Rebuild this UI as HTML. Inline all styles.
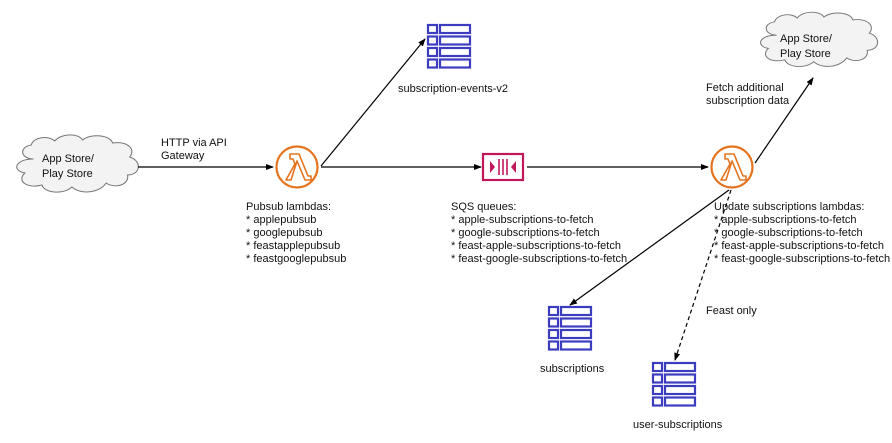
<!DOCTYPE html>
<html><head><meta charset="utf-8"><style>
html,body{margin:0;padding:0;background:#fff;}
svg{display:block;}
text{font-family:"Liberation Sans",Arial,sans-serif;font-size:11px;fill:#111;}
</style></head><body>
<svg width="892" height="443" viewBox="0 0 892 443" xmlns="http://www.w3.org/2000/svg">
<defs>
<marker id="ah" markerWidth="8" markerHeight="8" refX="7" refY="4" orient="auto" markerUnits="userSpaceOnUse">
<path d="M0,1 L8,4 L0,7 Z" fill="#000"/>
</marker>
<g id="tbl" fill="none" stroke="#3c3cc0" stroke-width="2.2">
<rect x="1" y="1" width="9" height="8"/><rect x="13" y="1" width="30" height="8"/>
<rect x="1" y="12.5" width="9" height="8"/><rect x="13" y="12.5" width="30" height="8"/>
<rect x="1" y="24" width="9" height="8"/><rect x="13" y="24" width="30" height="8"/>
<rect x="1" y="35.5" width="9" height="8"/><rect x="13" y="35.5" width="30" height="8"/>
</g>
<g id="lam">
<circle cx="0" cy="0" r="20.5" fill="none" stroke="#e5731e" stroke-width="2.2"/>
<path d="M-7,-13 L2,-13 L11,9 L14,9 L14,13 L8,13 L0,-6 L-6,13 L-11,13 L-2,-3 L-4,-8 L-7,-8 Z" fill="none" stroke="#e5731e" stroke-width="1.6" stroke-linejoin="round"/>
</g>
<path id="cloud" d="M20,18 C8,18 6,6 18,4 C20,-4 34,-6 40,0 C46,-8 62,-8 66,-1 C74,-8 92,-6 94,2 C108,0 116,8 110,16 C122,20 120,34 108,34 C110,44 96,48 88,42 C82,52 64,54 56,46 C48,54 30,52 28,44 C14,48 4,40 12,32 C0,30 2,18 20,18 Z" fill="#f3f3f3" stroke="#777" stroke-width="1"/>
</defs>

<use href="#cloud" transform="translate(12,141) scale(1.07,1)"/>
<text x="42" y="162">App Store/</text>
<text x="42" y="177">Play Store</text>

<use href="#cloud" transform="translate(756,18) scale(1.03,0.95)"/>
<text x="780" y="42">App Store/</text>
<text x="780" y="57">Play Store</text>

<line x1="138" y1="167" x2="273" y2="167" stroke="#000" stroke-width="1.2" marker-end="url(#ah)"/>
<line x1="321" y1="166" x2="425" y2="39" stroke="#000" stroke-width="1.2" marker-end="url(#ah)"/>
<line x1="321" y1="167" x2="481" y2="167" stroke="#000" stroke-width="1.2" marker-end="url(#ah)"/>
<line x1="527" y1="167" x2="708" y2="167" stroke="#000" stroke-width="1.2" marker-end="url(#ah)"/>
<line x1="755" y1="163" x2="813" y2="78" stroke="#000" stroke-width="1.2" marker-end="url(#ah)"/>
<line x1="729" y1="190" x2="570" y2="305" stroke="#000" stroke-width="1.2" marker-end="url(#ah)"/>
<line x1="731" y1="190" x2="675" y2="360" stroke="#000" stroke-width="1.2" stroke-dasharray="4,3" marker-end="url(#ah)"/>

<use href="#lam" transform="translate(297,167)"/>
<use href="#lam" transform="translate(732,167)"/>

<rect x="483" y="154" width="40" height="26" fill="#fff" stroke="#c2185b" stroke-width="2.2"/>
<path d="M490,161 L495,167 L490,173 Z" fill="#c2185b"/>
<path d="M516,161 L511,167 L516,173 Z" fill="#c2185b"/>
<line x1="499" y1="159" x2="499" y2="175" stroke="#c2185b" stroke-width="1.6"/>
<line x1="503" y1="159" x2="503" y2="175" stroke="#c2185b" stroke-width="1.6"/>
<line x1="507" y1="159" x2="507" y2="175" stroke="#c2185b" stroke-width="1.6"/>

<use href="#tbl" transform="translate(427,24)"/>
<use href="#tbl" transform="translate(548,306)"/>
<use href="#tbl" transform="translate(652,362)"/>

<text x="161" y="146">HTTP via API</text>
<text x="161" y="159">Gateway</text>
<text x="398" y="92">subscription-events-v2</text>
<text x="706" y="91">Fetch additional</text>
<text x="706" y="104">subscription data</text>

<text x="246" y="210">Pubsub lambdas:</text>
<text x="246" y="223">* applepubsub</text>
<text x="246" y="236">* googlepubsub</text>
<text x="246" y="249">* feastapplepubsub</text>
<text x="246" y="262">* feastgooglepubsub</text>

<text x="451" y="210">SQS queues:</text>
<text x="451" y="223">* apple-subscriptions-to-fetch</text>
<text x="451" y="236">* google-subscriptions-to-fetch</text>
<text x="451" y="249">* feast-apple-subscriptions-to-fetch</text>
<text x="451" y="262">* feast-google-subscriptions-to-fetch</text>

<text x="714" y="210">Update subscriptions lambdas:</text>
<text x="714" y="223">* apple-subscriptions-to-fetch</text>
<text x="714" y="236">* google-subscriptions-to-fetch</text>
<text x="714" y="249">* feast-apple-subscriptions-to-fetch</text>
<text x="714" y="262">* feast-google-subscriptions-to-fetch</text>

<text x="706" y="314">Feast only</text>
<text x="540" y="372">subscriptions</text>
<text x="633" y="428">user-subscriptions</text>
</svg>
</body></html>
